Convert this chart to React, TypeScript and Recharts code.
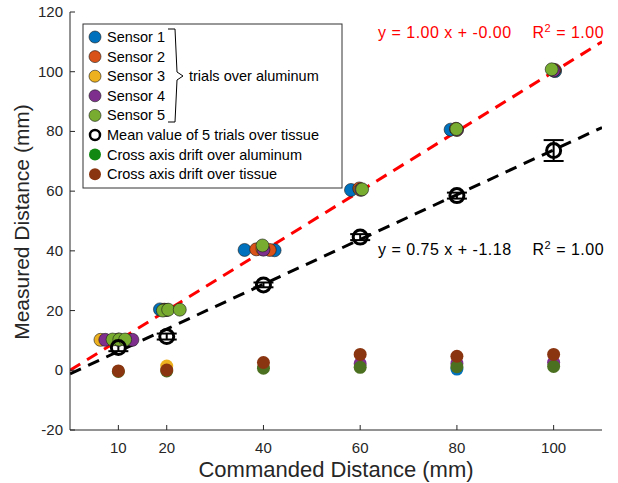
import React from 'react';
import {
  ComposedChart,
  Scatter,
  Line,
  XAxis,
  YAxis,
  ErrorBar,
} from 'recharts';

// aluminum trials, one array per sensor (x jitter)
const sensor1 = [
  { x: 10, y: 10.2 }, { x: 18.6, y: 20.4 }, { x: 36.1, y: 40.3 }, { x: 42.3, y: 40.2 },
  { x: 58.1, y: 60.4 }, { x: 78.7, y: 80.6 }, { x: 100.3, y: 100.2 },
];
const sensor2 = [
  { x: 10, y: 10.3 }, { x: 19.5, y: 20.3 }, { x: 38.5, y: 40.5 }, { x: 41.3, y: 40.3 },
  { x: 59.8, y: 60.9 }, { x: 79.8, y: 80.9 }, { x: 100.2, y: 100.6 },
];
const sensor3 = [
  { x: 6.3, y: 10.2 }, { x: 19.8, y: 20.2 }, { x: 39.8, y: 40.6 },
  { x: 60, y: 60.5 }, { x: 80, y: 80.5 }, { x: 100, y: 100.5 },
];
const sensor4 = [
  { x: 7.3, y: 10.2 }, { x: 12.9, y: 10.2 }, { x: 20, y: 20.2 }, { x: 40, y: 40.4 },
  { x: 60.2, y: 60.5 }, { x: 80, y: 80.6 }, { x: 100, y: 100.4 },
];
const sensor5 = [
  { x: 8.8, y: 10.3 }, { x: 10.2, y: 10.3 }, { x: 11.4, y: 10.3 },
  { x: 19.2, y: 20 }, { x: 20.3, y: 20.3 }, { x: 22.7, y: 20.3 },
  { x: 39.8, y: 41.8 }, { x: 60.4, y: 60.6 }, { x: 79.9, y: 80.8 }, { x: 99.6, y: 100.8 },
];

// cross axis drift of single sensors peeking behind the drift markers
const sensor3Drift = [{ x: 20, y: 1.4 }];
const sensor4Drift = [{ x: 60, y: 2.2 }, { x: 80, y: 2.3 }, { x: 100, y: 2.7 }];
const sensor1Drift = [{ x: 80, y: 0.4 }];

// mean of 5 trials over tissue
const commanded = [10, 20, 40, 60, 80, 100];
const tissueMean = [7.6, 11.3, 28.6, 44.6, 58.5, 73.6];
const tissueErr = [1.2, 1.0, 0.8, 1.0, 1.0, 3.5];

const driftAluminum = [-0.4, -0.2, 0.7, 1.0, 1.2, 1.3];
const driftTissue = [-0.2, 0.1, 2.6, 5.3, 4.7, 5.3];

// linear fits
const fitAluminum = { slope: 1.0, intercept: -0.0, r2: 1.0 };
const fitTissue = { slope: 0.75, intercept: -1.18, r2: 1.0 };

const xTicks = [10, 20, 40, 60, 80, 100];
const yTicks = [-20, 0, 20, 40, 60, 80, 100, 120];

const C = {
  s1: '#0072BD',
  s2: '#D95319',
  s3: '#EDB120',
  s4: '#7E2F8E',
  s5: '#77AC30',
  driftAl: '#4b7020',
  driftAlLegend: '#118811',
  driftTi: '#8a3510',
  axis: '#262626',
};

const FONT = 'Arial, "Liberation Sans", Helvetica, sans-serif';

const meanData = commanded.map((x, i) => ({ x, y: tissueMean[i], err: tissueErr[i] }));
const driftAlData = commanded.map((x, i) => ({ x, y: driftAluminum[i] }));
const driftTiData = commanded.map((x, i) => ({ x, y: driftTissue[i] }));

const fitLine = (f: { slope: number; intercept: number }) =>
  [0, 110].map((x) => ({ x, y: f.slope * x + f.intercept }));

const sensorDot = (color: string) => (p: any) => (
  <circle cx={p.cx} cy={p.cy} r={6.5} fill={color} stroke="#1a1a1a" strokeWidth={0.6} />
);
const plainDot = (color: string) => (p: any) => (
  <circle cx={p.cx} cy={p.cy} r={6.5} fill={color} />
);
const meanDot = (p: any) => (
  <circle cx={p.cx} cy={p.cy} r={7} fill="none" stroke="#000" strokeWidth={3} />
);

const XTick = (p: any) => (
  <g>
    <line x1={p.x} y1={p.y} x2={p.x} y2={p.y - 5} stroke={C.axis} />
    <text x={p.x} y={p.y + 23} textAnchor="middle" fontSize={15} fill={C.axis} fontFamily={FONT}>
      {p.payload.value}
    </text>
  </g>
);
const YTick = (p: any) => (
  <g>
    <line x1={p.x} y1={p.y} x2={p.x + 5} y2={p.y} stroke={C.axis} />
    <text x={p.x - 7} y={p.y + 5} textAnchor="end" fontSize={15} fill={C.axis} fontFamily={FONT}>
      {p.payload.value}
    </text>
  </g>
);

const legendRows = [
  { label: 'Sensor 1', color: C.s1, edge: true },
  { label: 'Sensor 2', color: C.s2, edge: true },
  { label: 'Sensor 3', color: C.s3, edge: true },
  { label: 'Sensor 4', color: C.s4, edge: true },
  { label: 'Sensor 5', color: C.s5, edge: true },
  { label: 'Mean value of 5 trials over tissue', color: 'open', edge: false },
  { label: 'Cross axis drift over aluminum', color: C.driftAlLegend, edge: false },
  { label: 'Cross axis drift over tissue', color: C.driftTi, edge: false },
];

function LegendBox() {
  return (
    <svg
      width={261}
      height={166}
      style={{ position: 'absolute', left: 82, top: 23 }}
    >
      <rect x={1} y={1} width={259} height={164} fill="#fff" stroke="#333" strokeWidth={1} />
      {legendRows.map((r, i) => {
        const cy = 14 + i * 19.6;
        return (
          <g key={r.label}>
            {r.color === 'open' ? (
              <circle cx={13} cy={cy} r={5} fill="none" stroke="#000" strokeWidth={2.5} />
            ) : (
              <circle cx={13} cy={cy} r={6} fill={r.color} stroke={r.edge ? '#1a1a1a' : 'none'} strokeWidth={0.6} />
            )}
            <text x={25} y={cy + 5} fontSize={14.5} fontFamily={FONT} fill="#000">
              {r.label}
            </text>
          </g>
        );
      })}
      <path d="M86,6 L93,6 L95,49 L101,53 L95,57 L93,99 L86,99" fill="none" stroke="#000" strokeWidth={1} />
      <text x={107} y={58} fontSize={14.5} fontFamily={FONT} fill="#000">
        trials over aluminum
      </text>
    </svg>
  );
}

const fmt = (v: number) => (v === 0 ? '-0.00' : v.toFixed(2));

function Equation({ fit, color, top }: { fit: typeof fitAluminum; color: string; top: number }) {
  return (
    <div
      style={{
        position: 'absolute',
        left: 378,
        top,
        fontFamily: FONT,
        fontSize: 16,
        letterSpacing: 0.5,
        lineHeight: '20px',
        color,
        whiteSpace: 'nowrap',
      }}
    >
      <span>{`y = ${fit.slope.toFixed(2)} x + ${fmt(fit.intercept)}`}</span>
      <span style={{ marginLeft: 21 }}>
        R<sup style={{ fontSize: 11, lineHeight: 0 }}>2</sup> = {fit.r2.toFixed(2)}
      </span>
    </div>
  );
}

export default function App() {
  return (
    <div style={{ position: 'absolute', left: 0, top: 0, width: 618, height: 483, background: '#fff' }}>
      <ComposedChart width={618} height={483} margin={{ top: 12, right: 16, bottom: 0, left: 0 }}>
        <XAxis
          dataKey="x"
          type="number"
          domain={[0, 110]}
          ticks={xTicks}
          allowDataOverflow
          height={53}
          tickSize={0}
          tickMargin={0}
          tick={XTick}
          stroke={C.axis}
        />
        <YAxis
          dataKey="y"
          type="number"
          domain={[-20, 120]}
          ticks={yTicks}
          allowDataOverflow
          width={70}
          tickSize={0}
          tickMargin={0}
          tick={YTick}
          stroke={C.axis}
        />
        <Line
          data={fitLine(fitAluminum)}
          dataKey="y"
          stroke="#ff0000"
          strokeWidth={3}
          strokeDasharray="12 8"
          dot={false}
          isAnimationActive={false}
        />
        <Line
          data={fitLine(fitTissue)}
          dataKey="y"
          stroke="#000"
          strokeWidth={3}
          strokeDasharray="12 8"
          dot={false}
          isAnimationActive={false}
        />
        <Scatter data={sensor3Drift} shape={plainDot(C.s3)} isAnimationActive={false} />
        <Scatter data={sensor1Drift} shape={plainDot(C.s1)} isAnimationActive={false} />
        <Scatter data={sensor4Drift} shape={plainDot(C.s4)} isAnimationActive={false} />
        <Scatter data={driftAlData} shape={plainDot(C.driftAl)} isAnimationActive={false} />
        <Scatter data={driftTiData} shape={plainDot(C.driftTi)} isAnimationActive={false} />
        <Scatter data={sensor1} shape={sensorDot(C.s1)} isAnimationActive={false} />
        <Scatter data={sensor2} shape={sensorDot(C.s2)} isAnimationActive={false} />
        <Scatter data={sensor3} shape={sensorDot(C.s3)} isAnimationActive={false} />
        <Scatter data={sensor4} shape={sensorDot(C.s4)} isAnimationActive={false} />
        <Scatter data={sensor5} shape={sensorDot(C.s5)} isAnimationActive={false} />
        <Scatter data={meanData} shape={meanDot} isAnimationActive={false}>
          <ErrorBar dataKey="err" direction="y" width={10} strokeWidth={2} stroke="#000" />
        </Scatter>
      </ComposedChart>

      <LegendBox />
      <Equation fit={fitAluminum} color="#ff0000" top={23} />
      <Equation fit={fitTissue} color="#000" top={240} />

      <div
        style={{
          position: 'absolute',
          left: 0,
          width: 672,
          top: 460,
          textAlign: 'center',
          fontFamily: FONT,
          fontSize: 22,
          lineHeight: '19px',
          color: C.axis,
        }}
      >
        Commanded Distance (mm)
      </div>
      <div
        style={{
          position: 'absolute',
          left: 22,
          top: 222,
          transform: 'translate(-50%, -50%) rotate(-90deg)',
          fontFamily: FONT,
          fontSize: 21,
          lineHeight: '22px',
          color: C.axis,
          whiteSpace: 'nowrap',
        }}
      >
        Measured Distance (mm)
      </div>
    </div>
  );
}
